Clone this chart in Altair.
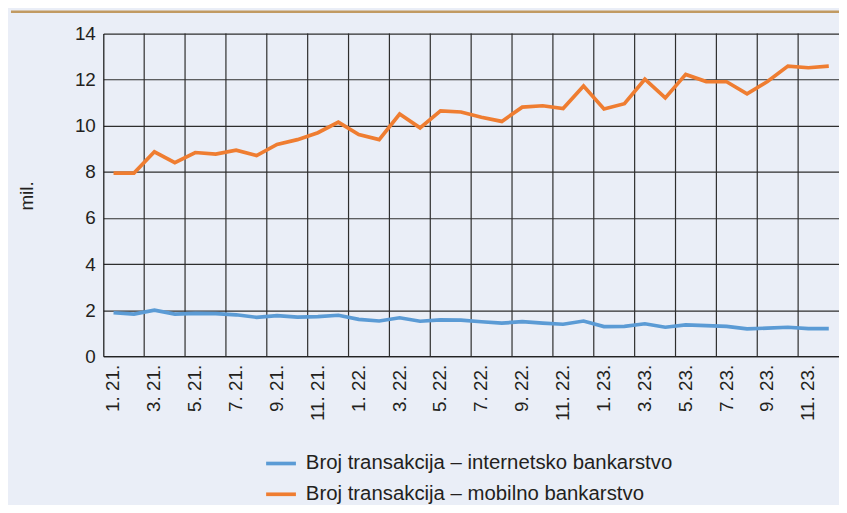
import altair as alt
import pandas as pd

months = [f"{m}. {y}." for y in (21, 22, 23) for m in range(1, 13)]

internet = [1.89, 1.83, 2.00, 1.83, 1.86, 1.85, 1.80, 1.69, 1.76, 1.70, 1.72, 1.78,
            1.60, 1.53, 1.67, 1.52, 1.58, 1.57, 1.50, 1.44, 1.50, 1.44, 1.39, 1.53,
            1.29, 1.30, 1.41, 1.26, 1.36, 1.33, 1.30, 1.19, 1.22, 1.26, 1.20, 1.20]

mobile = [7.95, 7.95, 8.87, 8.40, 8.84, 8.77, 8.94, 8.71, 9.19, 9.40, 9.70, 10.16,
          9.62, 9.40, 10.51, 9.91, 10.65, 10.60, 10.37, 10.19, 10.81, 10.87, 10.75, 11.73,
          10.73, 10.96, 12.02, 11.21, 12.23, 11.92, 11.91, 11.39, 11.92, 12.59, 12.52, 12.59]

series_names = ["Broj transakcija – internetsko bankarstvo",
                "Broj transakcija – mobilno bankarstvo"]
series_colors = ["#5b9bd5", "#ef7d31"]
y_ticks = [0, 2, 4, 6, 8, 10, 12, 14]
x_label_values = months[::2]

rows = []
for i, m in enumerate(months):
    rows.append({"month": m, "value": internet[i], "series": series_names[0]})
    rows.append({"month": m, "value": mobile[i], "series": series_names[1]})
df = pd.DataFrame(rows)

# vertical grid lines at the start of every odd month
grid_df = pd.DataFrame({"month": months[2::2]})

FONT = "Liberation Sans"
TXT = "#231f20"
GRID = "#2e2e2e"
FS = 19

x_scale = alt.Scale(domain=months, paddingInner=0, paddingOuter=0)
x_axis = alt.Axis(title=None, values=x_label_values, grid=False, ticks=False,
                  domain=True, domainColor="#111", domainWidth=1.2,
                  labelAngle=270, labelAlign="right", labelBaseline="middle",
                  labelPadding=8, labelFontSize=FS, labelColor=TXT,
                  labelFont=FONT)

vgrid = alt.Chart(grid_df).mark_rule(color=GRID, strokeWidth=1.2).encode(
    x=alt.X("month:O", scale=x_scale, bandPosition=0, axis=x_axis))

lines = alt.Chart(df).mark_line(strokeWidth=3.7).encode(
    x=alt.X("month:O", scale=x_scale, axis=x_axis),
    y=alt.Y("value:Q", scale=alt.Scale(domain=[0, 14], nice=False),
            axis=alt.Axis(title="mil.", values=y_ticks, grid=True, gridColor=GRID,
                          gridWidth=1.2, gridOpacity=1, ticks=False, domain=True,
                          domainColor="#111", domainWidth=1.2,
                          labelFontSize=FS, labelColor=TXT, labelFont=FONT,
                          labelPadding=8,
                          titleFont=FONT, titleFontSize=19, titleFontWeight="normal",
                          titleColor=TXT, titleAngle=270, titleX=-77, titleY=163,
                          titleAlign="center", titleBaseline="middle")),
    color=alt.Color("series:N",
                    scale=alt.Scale(domain=series_names, range=series_colors),
                    legend=alt.Legend(title=None, orient="none", legendX=162,
                                      legendY=416, symbolType="stroke",
                                      symbolSize=900, symbolStrokeWidth=3.7,
                                      labelFontSize=20.5, labelFont=FONT,
                                      labelColor=TXT, rowPadding=3,
                                      labelOffset=8, labelLimit=0)),
)

topline = alt.Chart(pd.DataFrame({"a": [0]})).mark_rule(
    color="#c19a62", strokeWidth=2.5).encode(
    x=alt.value(-93), x2=alt.value(741), y=alt.value(-22))

chart = alt.layer(vgrid, lines, topline).properties(
    width=741, height=325,
    autosize=alt.AutoSizeParams(type="none"),
    padding={"left": 96, "top": 24, "right": 0, "bottom": 148},
    background="#eaeef7",
).configure_view(stroke=None, fill="#eaeef7")

chart.save("out.html", embed_options={"renderer": "svg", "actions": False})
